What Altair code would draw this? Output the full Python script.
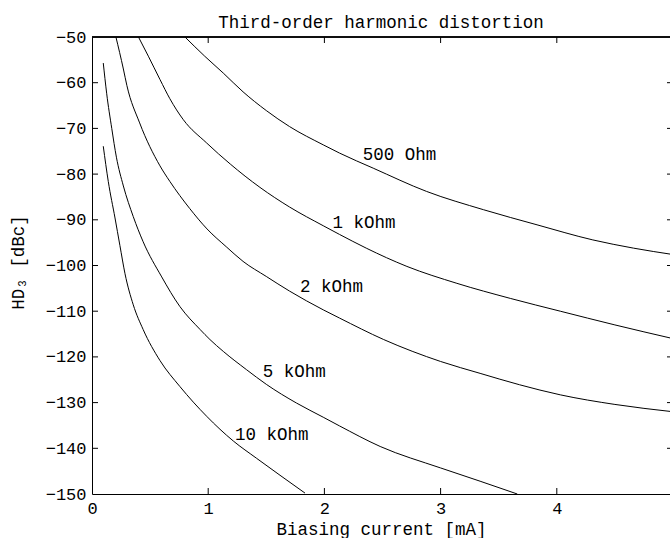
import altair as alt
import pandas as pd

# ---- data ----
I_500 = [0.80, 0.97, 1.13, 1.30, 1.50, 1.70, 1.99, 2.13, 2.42, 2.88, 3.37, 3.83, 4.31, 4.66, 5.00]
HD_500 = [-50.0, -54.2, -57.9, -62.0, -66.1, -69.6, -73.6, -75.4, -78.7, -83.8, -87.8, -91.1, -94.4, -96.2, -97.6]

I_1k = [0.40, 0.485, 0.585, 0.67, 0.786, 0.987, 1.19, 1.445, 1.70, 1.99, 2.13, 2.36, 2.71, 3.14, 3.60, 4.03, 4.50, 5.00]
HD_1k = [-50.0, -54.2, -59.3, -63.5, -68.1, -73.2, -77.8, -82.9, -87.2, -91.3, -93.2, -96.2, -100.2, -103.9, -107.2, -110.0, -113.0, -116.0]

I_2k = [0.206, 0.27, 0.30, 0.41, 0.585, 0.67, 0.84, 0.99, 1.16, 1.30, 1.50, 1.70, 1.99, 2.13, 2.51, 3.00, 3.34, 3.68, 4.03, 4.50, 5.00]
HD_2k = [-50.0, -57.0, -60.6, -68.8, -78.2, -81.6, -87.5, -92.0, -96.0, -99.1, -102.4, -105.6, -109.7, -111.5, -116.2, -121.0, -123.6, -126.1, -128.3, -130.4, -132.0]

I_5k = [0.097, 0.126, 0.17, 0.21, 0.27, 0.355, 0.44, 0.60, 0.757, 0.93, 1.015, 1.13, 1.33, 1.50, 1.76, 1.99, 2.13, 2.48, 3.00, 3.34, 3.66]
HD_5k = [-55.7, -62.3, -70.0, -76.3, -82.6, -89.3, -94.8, -102.5, -109.0, -114.0, -116.2, -118.8, -122.8, -126.0, -130.1, -133.2, -135.1, -139.6, -144.3, -147.2, -150.0]

I_10k = [0.097, 0.14, 0.198, 0.24, 0.284, 0.355, 0.44, 0.585, 0.757, 0.987, 1.216, 1.417, 1.618, 1.833]
HD_10k = [-73.9, -81.6, -89.6, -95.6, -101.8, -108.6, -114.0, -120.8, -126.5, -133.0, -138.4, -142.2, -145.9, -149.8]

label_names = ["500 Ohm", "1 kOhm", "2 kOhm", "5 kOhm", "10 kOhm"]
label_x = [2.33, 2.07, 1.79, 1.47, 1.23]
label_y = [-75.8, -90.6, -104.6, -123.4, -137.0]

x_tick_values = [0, 1, 2, 3, 4, 5]
y_tick_values = [-50, -60, -70, -80, -90, -100, -110, -120, -130, -140, -150]
x_inner_ticks = [1, 2, 3, 4]
y_inner_ticks = [-60, -70, -80, -90, -100, -110, -120, -130, -140]

TITLE = "Third-order harmonic distortion"
X_TITLE = "Biasing current [mA]"
Y_TITLE = "HD\u2083 [dBc]"

# ---- build tables ----
rows = []
for name, xs_, ys_ in [("500 Ohm", I_500, HD_500), ("1 kOhm", I_1k, HD_1k),
                       ("2 kOhm", I_2k, HD_2k), ("5 kOhm", I_5k, HD_5k),
                       ("10 kOhm", I_10k, HD_10k)]:
    for k, (a, b) in enumerate(zip(xs_, ys_)):
        rows.append({"curve": name, "idx": k, "I": a, "HD": b})
df = pd.DataFrame(rows)
labels_df = pd.DataFrame({"name": label_names, "lx": label_x, "ly": label_y})
xt_df = pd.DataFrame({"v": x_inner_ticks})
yt_df = pd.DataFrame({"v": y_inner_ticks})

FONT = "Liberation Mono"
W, H = 578, 457
XMAX = 5 * 578 / 581

xscale = alt.Scale(domain=[0, XMAX], nice=False, zero=False)
yscale = alt.Scale(domain=[-150, -50], nice=False, zero=False)

x_axis = alt.Axis(values=x_tick_values, title=X_TITLE, ticks=False, grid=False,
                  domain=True, domainColor="black", domainWidth=1,
                  labelFlush=False, labelPadding=6, labelFont=FONT, labelFontSize=17,
                  labelColor="black", titleFont=FONT, titleFontSize=17.5,
                  titleFontWeight="normal", titleColor="black",
                  titleY=40, titleBaseline="alphabetic")
y_axis = alt.Axis(values=y_tick_values, title=Y_TITLE, ticks=False, grid=False,
                  domain=True, domainColor="black", domainWidth=1,
                  labelPadding=6, labelFont=FONT, labelFontSize=17,
                  labelColor="black", titleFont=FONT, titleFontSize=17.5,
                  titleFontWeight="normal", titleColor="black",
                  titleX=-69, titleY=225, titleBaseline="alphabetic",
                  titleAlign="center")

lines = alt.Chart(df).mark_line(color="black", strokeWidth=1, clip=True,
                                interpolate="monotone").encode(
    x=alt.X("I:Q", scale=xscale, axis=x_axis),
    y=alt.Y("HD:Q", scale=yscale, axis=y_axis),
    detail="curve:N",
    order="idx:Q",
)

texts = alt.Chart(labels_df).mark_text(align="left", baseline="middle", font=FONT,
                                       fontSize=17.5, color="black").encode(
    x=alt.X("lx:Q", axis=x_axis, scale=xscale),
    y=alt.Y("ly:Q", axis=y_axis, scale=yscale),
    text="name:N",
)

bottom_ticks = alt.Chart(xt_df).mark_rule(color="black", strokeWidth=1).encode(
    x=alt.X("v:Q", axis=x_axis, scale=xscale), y=alt.value(H), y2=alt.value(H - 6))
top_ticks = alt.Chart(xt_df).mark_rule(color="black", strokeWidth=1).encode(
    x=alt.X("v:Q", axis=x_axis, scale=xscale), y=alt.value(0), y2=alt.value(6))
left_ticks = alt.Chart(yt_df).mark_rule(color="black", strokeWidth=1).encode(
    y=alt.Y("v:Q", axis=y_axis, scale=yscale), x=alt.value(0), x2=alt.value(6))
right_ticks = alt.Chart(yt_df).mark_rule(color="black", strokeWidth=1).encode(
    y=alt.Y("v:Q", axis=y_axis, scale=yscale),
    x=alt.XDatum(5, type="quantitative", scale=xscale, axis=x_axis), x2=alt.value(W - 3))
top_border = alt.Chart(xt_df).mark_rule(color="black", strokeWidth=1).encode(
    x=alt.XDatum(0, type="quantitative", scale=xscale, axis=x_axis),
    x2=alt.X2Datum(5), y=alt.value(0))

chart = alt.layer(lines, texts, top_border, bottom_ticks, top_ticks, left_ticks, right_ticks).properties(
    width=W, height=H,
    padding={"left": 92, "top": 37, "right": 0, "bottom": 44},
    autosize=alt.AutoSizeParams(type="none"),
    background="white",
    title=alt.TitleParams(TITLE, font=FONT, fontSize=17.5, fontWeight="normal", color="black",
                          anchor="middle", frame="group", offset=-17, baseline="alphabetic"),
).configure_view(stroke=None)

chart.save("out.html", embed_options={"renderer": "svg", "actions": False})
